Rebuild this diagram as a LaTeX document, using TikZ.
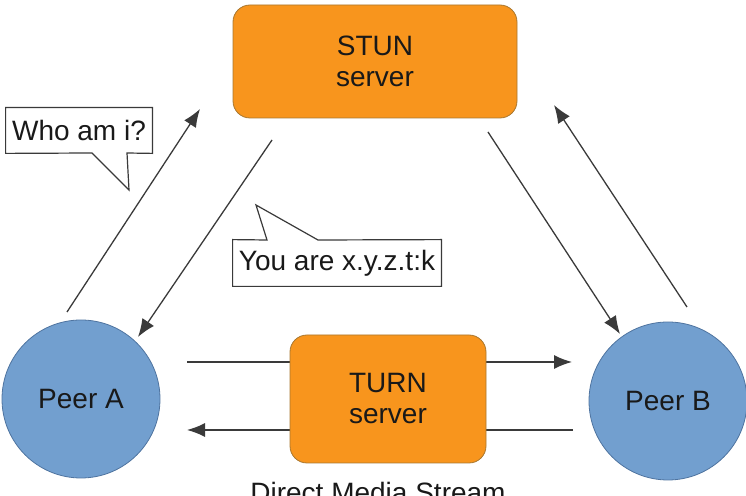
\documentclass[tikz,border=0pt]{standalone}
\usepackage{fontspec}
\setmainfont{Liberation Sans}
\usetikzlibrary{arrows.meta}

\definecolor{stunorange}{HTML}{F8951D}
\definecolor{boxedge}{HTML}{A8772F}
\definecolor{peerblue}{HTML}{729FCF}
\definecolor{peeredge}{HTML}{4F74A0}
\definecolor{linegray}{HTML}{3A3A3A}

\tikzset{
    server/.style={draw=boxedge, line width=0.4pt, fill=stunorange,
        rounded corners=8.5pt, align=center, text=black!90,
        font=\fontsize{14}{15.5}\selectfont},
    peer/.style={circle, draw=peeredge, line width=0.4pt, fill=peerblue,
        minimum size=79pt, inner sep=0pt, text=black!90,
        font=\fontsize{14}{16}\selectfont},
    flow/.style={draw=linegray, line width=0.65pt,
        -{Latex[length=9pt,width=7pt]}},
    bubble/.style={draw=linegray, line width=0.6pt, fill=white},
    msgtext/.style={inner sep=0pt, text=black!90,
        font=\fontsize{14}{16}\selectfont}
}

\begin{document}
\begin{tikzpicture}[x=0.5pt, y=-0.5pt]
    \useasboundingbox (0,0) rectangle (746,496);

    % ends of the arrows
    \coordinate (askA) at (67,312);
    \coordinate (askAtip) at (200,109);
    \coordinate (replyA) at (272,140);
    \coordinate (replyAtip) at (138,337);
    \coordinate (replyB) at (488,132);
    \coordinate (replyBtip) at (620,334);
    \coordinate (askB) at (687,307);
    \coordinate (askBtip) at (554,105);
    \coordinate (mediaA) at (187,362);
    \coordinate (mediaAtip) at (572,362);
    \coordinate (mediaB) at (573,430);
    \coordinate (mediaBtip) at (187,430);

    % stun requests
    \draw[flow] (askA) -- (askAtip);
    \draw[flow] (replyA) -- (replyAtip);
    \draw[flow] (replyB) -- (replyBtip);
    \draw[flow] (askB) -- (askBtip);

    % media stream
    \draw[flow] (mediaA) -- (mediaAtip);
    \draw[flow] (mediaB) -- (mediaBtip);

    % servers
    \node[server, minimum width=142pt, minimum height=56.5pt] (stun)
        at (375,61.5) {STUN\\server};
    \node[server, minimum width=98pt, minimum height=64pt] (turn)
        at (388,399) {TURN\\server};

    % peers
    \node[peer] (peerA) at (81,399) {Peer A};
    \node[peer] (peerB) at (668,401) {Peer B};

    % speech bubbles
    \node[msgtext, minimum width=73pt, minimum height=22.5pt] (whoami)
        at (79,130.5) {};
    \coordinate (whoamitip) at (129,190);
    \draw[bubble] (whoami.north west) -- (whoami.north east)
        -- (whoami.south east) -- (127,153) -- (whoamitip)
        -- (92,153) -- (whoami.south west) -- cycle;
    \node[msgtext] at (whoami) {Who am i?};

    \node[msgtext, minimum width=104pt, minimum height=23pt] (youare)
        at (337,263) {};
    \coordinate (youaretip) at (256,205);
    \draw[bubble] (youare.south west) -- (youare.north west)
        -- (267,240) -- (youaretip) -- (318,240)
        -- (youare.north east) -- (youare.south east) -- cycle;
    \node[msgtext] at (youare) {You are x.y.z.t:k};

    % caption, cut by the lower edge
    \node[msgtext, anchor=base] (stream) at (378,503) {Direct Media Stream};

\end{tikzpicture}
\end{document}
